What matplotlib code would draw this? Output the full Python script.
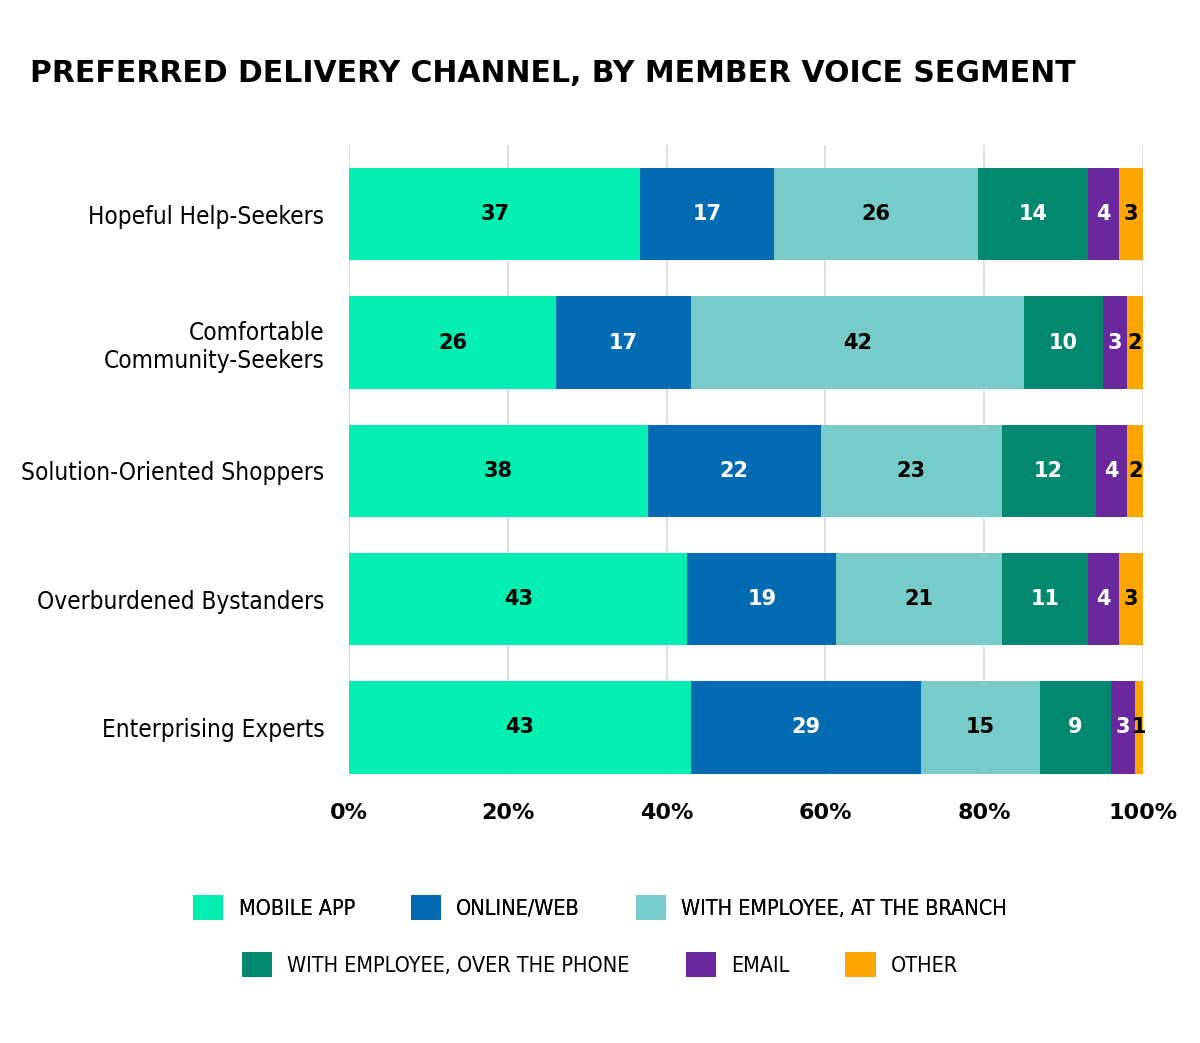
import matplotlib.pyplot as plt
import numpy as np
from matplotlib.patches import Patch
from matplotlib import font_manager as fm

segments = ["Hopeful Help-Seekers", "Comfortable\nCommunity-Seekers",
            "Solution-Oriented Shoppers", "Overburdened Bystanders",
            "Enterprising Experts"]
channels = ["MOBILE APP", "ONLINE/WEB", "WITH EMPLOYEE, AT THE BRANCH",
            "WITH EMPLOYEE, OVER THE PHONE", "EMAIL", "OTHER"]
mobile_app = [37, 26, 38, 43, 43]
online_web = [17, 17, 22, 19, 29]
at_branch = [26, 42, 23, 21, 15]
over_phone = [14, 10, 12, 11, 9]
email = [4, 3, 4, 4, 3]
other = [3, 2, 2, 3, 1]

colors = ["#02efb1", "#036bb2", "#77cbc8", "#02886f", "#6a289f", "#ffa500"]
text_colors = ["black", "white", "black", "white", "white", "black"]


def narrow_font(size):
    # look for a condensed face among the installed fonts
    cands = [f for f in fm.fontManager.ttflist
             if ("narrow" in f.name.lower() or "condensed" in f.name.lower()
                 or "narrow" in f.fname.lower() or "condensed" in f.fname.lower())
             and "italic" not in f.fname.lower() and "oblique" not in f.fname.lower()]
    cands.sort(key=lambda f: ("liberation" not in f.fname.lower(),
                              "bold" in f.fname.lower(), f.fname))
    if cands:
        return fm.FontProperties(fname=cands[0].fname, size=size)
    return fm.FontProperties(family="DejaVu Sans", size=size * 0.82)


series = np.array([mobile_app, online_web, at_branch, over_phone, email, other], dtype=float)
# shares in the source are rounded, so bars are scaled to fill 100%
shares = series / series.sum(axis=0) * 100

fig = plt.figure(figsize=(12, 10.43), dpi=100)
ax = fig.add_axes([0.291, 0.257, 0.6615, 0.604])

y = np.arange(len(segments))
left = np.zeros(len(segments))
for i in range(len(channels)):
    ax.barh(y, shares[i], left=left, height=0.72, color=colors[i], zorder=2)
    for j in range(len(segments)):
        ax.text(left[j] + shares[i][j] / 2, y[j], f"{int(series[i][j])}",
                ha="center", va="center", fontsize=15, fontweight="bold",
                color=text_colors[i], zorder=3)
    left += shares[i]

ax.set_xlim(0, 100)
ax.set_ylim(4.37, -0.54)
ax.set_xticks([0, 20, 40, 60, 80, 100])
ax.set_xticklabels(["0%", "20%", "40%", "60%", "80%", "100%"],
                   fontsize=16, fontweight="bold")
ax.set_yticks(y)
ax.set_yticklabels(segments, fontproperties=narrow_font(17.5))
ax.tick_params(length=0, pad=20)
ax.tick_params(axis="y", pad=18)
ax.grid(axis="x", color="#d9d9d9", linewidth=1.2, zorder=0)
for s in ax.spines.values():
    s.set_visible(False)

fig.text(0.025, 0.93, "PREFERRED DELIVERY CHANNEL, BY MEMBER VOICE SEGMENT",
         fontsize=21.5, fontweight="bold", ha="left", va="center")

handles = [Patch(facecolor=c) for c in colors]
leg_kw = dict(frameon=False, ncol=3, handlelength=1.4, handleheight=1.4,
              handletextpad=0.7, columnspacing=2.6,
              prop=narrow_font(15.5))
leg1 = fig.legend(handles[:3], channels[:3], loc="center",
                  bbox_to_anchor=(0.5, 0.13), **leg_kw)
fig.add_artist(leg1)
fig.legend(handles[3:], channels[3:], loc="center",
           bbox_to_anchor=(0.5, 0.075), **leg_kw)

fig.savefig("out.png", dpi=100, facecolor="white")
